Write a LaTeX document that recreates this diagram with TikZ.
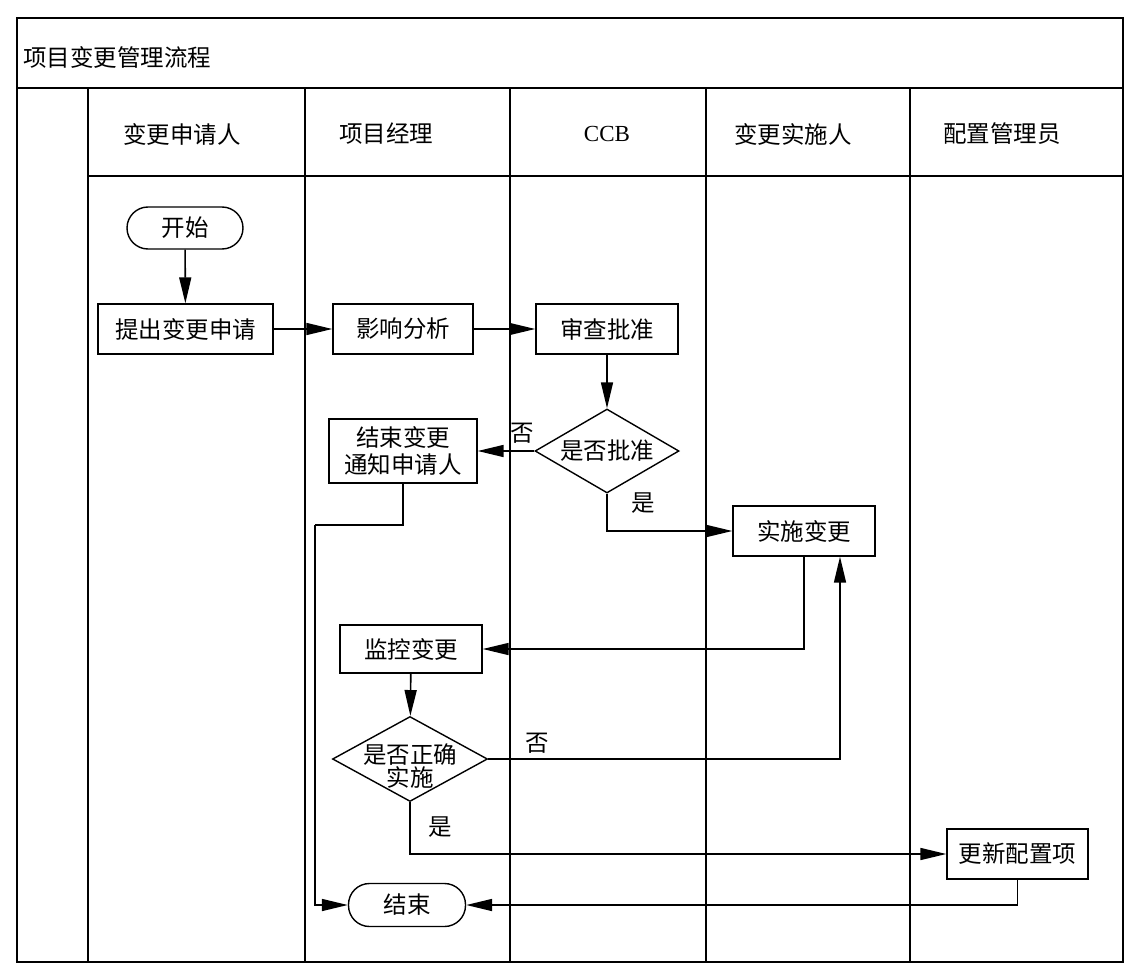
\documentclass[tikz,border=0pt]{standalone}
\usepackage{fontspec}
\setmainfont{Liberation Serif}
\newfontfamily\cjk{Noto Sans CJK SC}
\usetikzlibrary{shapes.geometric,arrows.meta}
\begin{document}
\begin{tikzpicture}[x=1pt,y=-1pt,
  every node/.style={font=\cjk\fontsize{23.5}{30}\selectfont},
  box/.style={draw, line width=1.4pt, inner sep=0pt, align=center},
  term/.style={draw, line width=1.4pt, rounded corners=21pt, inner sep=0pt},
  diam/.style={draw, diamond, line width=1.4pt, inner sep=0pt},
  conn/.style={line width=1.6pt, -{Triangle[length=26pt,width=12pt]}},
  plain/.style={line width=1.6pt},
  lane/.style={line width=2pt},
  lbl/.style={inner sep=0pt}
]
\useasboundingbox (0,0) rectangle (1137,979);
% frame and lanes
\draw[lane] (17,18) rectangle (1123,962);
\draw[line width=2.8pt] (17,88) -- (1123,88);
\draw[lane] (88,176) -- (1123,176);
\foreach \x in {88,305,510,706,910} \draw[lane] (\x,88) -- (\x,962);
% title and headers
\node[lbl, anchor=west] (title) at (23,57) {项目变更管理流程};
\node[lbl] (h1) at (182,134) {变更申请人};
\node[lbl] (h2) at (386,134) {项目经理};
\node[lbl, font=\rmfamily\fontsize{23}{26}\selectfont] (h3) at (607,134) {CCB};
\node[lbl] (h4) at (793,134) {变更实施人};
\node[lbl] (h5) at (1002,134) {配置管理员};
% nodes
\node[term, minimum width=116pt, minimum height=42pt] (start) at (185,228) {开始};
\node[box, minimum width=175pt, minimum height=50pt] (apply) at (185.5,329) {提出变更申请};
\node[box, minimum width=140pt, minimum height=50pt] (analyze) at (403,329) {影响分析};
\node[box, minimum width=142pt, minimum height=50pt] (review) at (607,329) {审查批准};
\node[diam, minimum width=144pt, minimum height=84pt] (approve) at (607,451) {};
\node[lbl] (approvetxt) at (607,451) {是否批准};
\node[box, minimum width=148pt, minimum height=64pt] (notify) at (403,451) {结束变更\\[-3pt]通知申请人};
\node[box, minimum width=142pt, minimum height=50pt] (impl) at (804,531) {实施变更};
\node[box, minimum width=142pt, minimum height=48pt] (monitor) at (411,649) {监控变更};
\node[diam, minimum width=155pt, minimum height=85pt] (check) at (410,759) {};
\node[lbl, align=center, font=\cjk\fontsize{23.5}{23}\selectfont] (checktxt) at (410,766) {是否正确\\实施};
\node[box, minimum width=141pt, minimum height=50pt] (update) at (1017.5,854) {更新配置项};
\node[term, minimum width=117pt, minimum height=43pt] (end) at (407,905) {结束};
\coordinate (c1) at (315,525);
% connectors
\draw[conn] (start) -- (apply);
\draw[conn] (apply) -- (analyze);
\draw[conn] (analyze) -- (review);
\draw[conn] (review) -- (approve);
\draw[conn] (approve.west) -- (notify.east);
\node[lbl] (no1) at (522,433) {否};
\draw[conn] (approve.south) |- (impl.west);
\node[lbl] (yes1) at (643,503) {是};
\draw[plain] (notify.south) |- (c1);
\draw[conn] (c1) |- (end.west);
\draw[conn] (impl.south) |- (monitor.east);
\draw[conn] (monitor) -- (check);
\draw[conn] (check.east) -| ([xshift=36pt]impl.south);
\node[lbl] (no2) at (537,743) {否};
\draw[conn] (check.south) |- (update.west);
\node[lbl] (yes2) at (440,827) {是};
\draw[conn] (update.south) |- (end.east);
\end{tikzpicture}
\end{document}
